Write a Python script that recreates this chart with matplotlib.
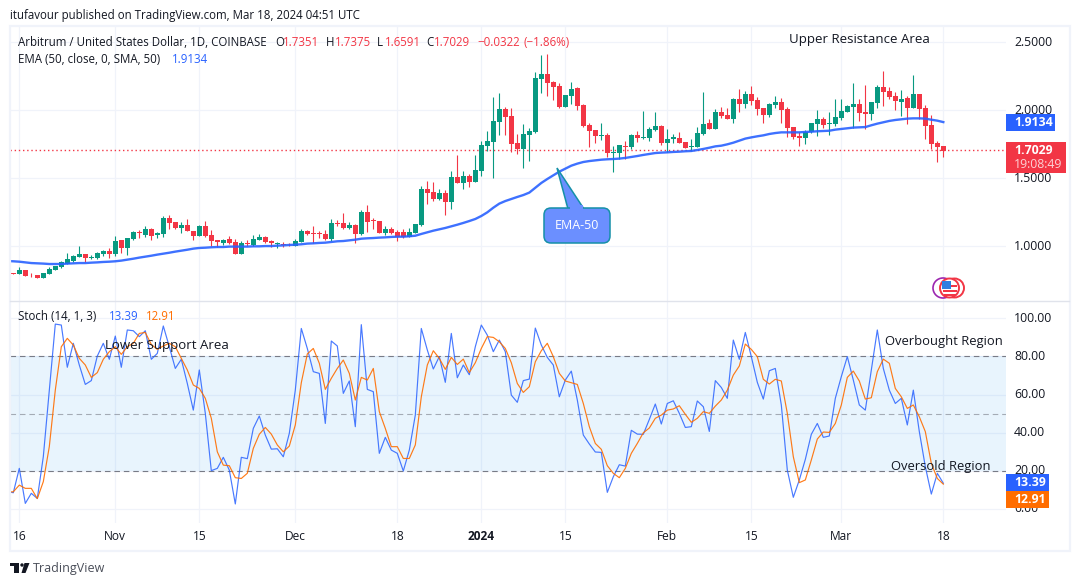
import matplotlib.pyplot as plt
from matplotlib.patches import Rectangle, FancyBboxPatch, Polygon, Circle

plt.rcParams['font.family'] = ['Open Sans', 'DejaVu Sans']

opens = [.804,.797,.826,.789,.789,.767,.799,.826,.848,.873,.892,.924,.944,.917,.914,.944,.966,.944,1.049,.990,
         1.054,1.105,1.083,1.127,1.083,1.091,1.208,1.181,1.135,1.157,1.115,1.076,1.150,1.083,1.047,1.025,1.054,1.029,.944,1.025,
         1.007,1.049,1.069,1.039,1.015,1.017,1.012,1.002,1.032,1.113,1.098,1.098,1.091,1.054,1.172,1.172,1.135,1.157,1.091,1.252,
         1.194,1.186,1.098,1.127,1.105,1.105,1.069,1.098,1.157,1.422,1.400,1.348,1.392,1.326,1.510,1.466,1.517,1.473,1.554,1.738,
         1.767,1.914,2.010,1.958,1.760,1.716,1.819,1.841,2.230,2.267,2.208,2.179,2.025,2.105,2.164,2.039,1.892,1.855,1.811,1.819,
         1.689,1.686,1.738,1.730,1.819,1.797,1.797,1.855,1.885,1.760,1.789,1.797,1.767,1.730,1.730,1.826,1.907,1.863,1.988,1.966,
         1.936,2.083,2.047,2.120,2.076,2.017,1.966,2.039,2.061,2.010,1.877,1.811,1.797,1.841,1.900,1.936,1.900,1.900,1.944,1.988,
         2.025,2.047,1.988,1.973,2.054,2.172,2.142,2.105,2.061,2.091,2.017,2.120,2.017,1.892,1.760,1.7351]
highs = [.806,.846,.826,.801,.789,.806,.846,.855,.895,.951,.939,1.002,.944,.936,.956,.973,.988,1.076,1.049,1.059,
         1.115,1.120,1.150,1.135,1.105,1.223,1.228,1.181,1.179,1.199,1.115,1.154,1.186,1.120,1.047,1.054,1.076,1.051,1.039,1.047,
         1.083,1.091,1.076,1.047,1.032,1.032,1.022,1.051,1.127,1.120,1.150,1.115,1.120,1.201,1.194,1.248,1.179,1.164,1.267,1.304,
         1.208,1.186,1.150,1.142,1.120,1.127,1.135,1.164,1.444,1.480,1.473,1.422,1.414,1.554,1.672,1.554,1.532,1.672,1.777,1.848,
         2.098,2.127,2.025,2.017,1.826,1.900,1.870,2.282,2.407,2.414,2.216,2.201,2.113,2.208,2.172,2.047,1.907,1.855,1.907,1.833,
         1.738,1.745,1.775,1.826,1.848,1.995,1.877,1.988,1.892,1.863,1.826,1.841,1.767,1.789,1.877,2.135,1.936,2.010,2.025,2.017,
         2.091,2.157,2.142,2.179,2.098,2.017,2.054,2.105,2.091,2.025,1.877,1.841,1.855,1.907,2.002,1.951,1.988,2.083,2.083,2.039,
         2.201,2.083,2.186,2.061,2.186,2.289,2.172,2.135,2.150,2.105,2.260,2.120,2.039,1.966,1.775,1.7375]
lows = [.797,.797,.782,.775,.770,.767,.797,.826,.843,.868,.887,.919,.885,.907,.909,.929,.917,.929,.953,.939,
        1.049,1.061,1.071,1.047,1.064,1.071,1.127,1.125,1.098,1.115,1.047,1.076,1.071,1.002,.993,1.007,1.017,.944,.944,1.002,
        1.002,1.047,1.027,.995,.990,.998,1.002,1.002,1.029,1.083,1.022,1.059,1.047,1.039,1.150,1.125,1.125,1.027,1.083,1.105,
        1.127,1.098,1.083,1.091,1.039,1.061,1.069,1.098,1.150,1.311,1.336,1.341,1.230,1.275,1.466,1.422,1.436,1.473,1.517,1.701,
        1.502,1.819,1.819,1.694,1.679,1.576,1.627,1.833,2.127,2.105,2.076,2.017,2.025,2.047,2.002,1.877,1.730,1.760,1.782,1.657,
        1.547,1.642,1.642,1.716,1.767,1.789,1.775,1.848,1.745,1.694,1.760,1.760,1.723,1.701,1.730,1.819,1.863,1.863,1.944,1.936,
        1.907,1.988,2.017,2.039,1.966,1.907,1.951,2.017,1.907,1.804,1.789,1.738,1.752,1.833,1.811,1.870,1.819,1.885,1.929,1.988,
        1.870,1.922,1.863,1.929,2.017,2.032,2.083,2.002,1.958,1.900,2.017,1.936,1.789,1.716,1.620,1.6591]
closes = [.799,.826,.784,.787,.770,.801,.833,.855,.882,.907,.926,.944,.914,.922,.951,.966,.944,1.039,.990,1.059,
          1.105,1.100,1.127,1.076,1.100,1.208,1.172,1.135,1.157,1.115,1.076,1.150,1.076,1.039,1.034,1.047,1.025,.944,1.022,1.017,
          1.054,1.069,1.032,1.022,1.022,1.007,1.007,1.039,1.113,1.091,1.093,1.093,1.054,1.172,1.167,1.135,1.157,1.091,1.252,1.179,
          1.189,1.098,1.127,1.098,1.069,1.069,1.105,1.164,1.422,1.392,1.348,1.392,1.326,1.510,1.466,1.517,1.473,1.561,1.745,1.775,
          1.922,2.010,1.951,1.752,1.716,1.826,1.848,2.238,2.267,2.201,2.172,2.025,2.113,2.157,2.032,1.885,1.848,1.811,1.819,1.686,
          1.694,1.745,1.730,1.819,1.797,1.804,1.863,1.885,1.757,1.789,1.804,1.760,1.723,1.738,1.833,1.900,1.863,1.988,1.958,1.936,
          2.083,2.047,2.120,2.069,2.010,1.966,2.047,2.061,2.002,1.870,1.804,1.797,1.841,1.907,1.936,1.892,1.907,1.951,1.995,2.032,
          2.047,1.980,1.973,2.061,2.172,2.135,2.098,2.069,2.083,2.017,2.120,2.010,1.885,1.752,1.730,1.7029]
# these three start one bar before the first candle, at the left edge of the panes
ema50 = [.892,.890,.887,.882,.877,.875,.873,.870,.870,.870,.873,.875,.877,.877,.880,.882,.885,.887,.890,.895,.902,
         .909,.917,.924,.931,.939,.946,.953,.961,.968,.975,.983,.988,.990,.993,.995,.995,.998,.998,.998,.998,
         1.000,1.000,1.002,1.002,1.005,1.007,1.010,1.012,1.015,1.020,1.022,1.025,1.027,1.032,1.037,1.039,1.044,1.049,1.056,1.059,
         1.061,1.064,1.066,1.069,1.071,1.071,1.074,1.078,1.091,1.103,1.115,1.125,1.135,1.147,1.159,1.172,1.186,1.201,1.223,1.250,
         1.284,1.314,1.333,1.348,1.363,1.377,1.395,1.431,1.466,1.495,1.522,1.549,1.571,1.593,1.608,1.620,1.627,1.632,1.637,1.640,
         1.642,1.645,1.650,1.657,1.664,1.672,1.679,1.686,1.689,1.691,1.694,1.696,1.699,1.701,1.708,1.716,1.725,1.735,1.740,1.750,
         1.762,1.777,1.792,1.801,1.809,1.816,1.826,1.833,1.838,1.838,1.838,1.838,1.841,1.843,1.846,1.848,1.850,1.858,1.863,1.868,
         1.873,1.875,1.877,1.890,1.902,1.912,1.922,1.929,1.934,1.939,1.941,1.941,1.939,1.931,1.924,1.9134]
stoch_k = [9.0,8.4,21.2,2.8,8.1,5.4,27.3,62.3,97.0,96.5,74.3,86.9,75.5,65.3,67.3,80.2,86.9,78.5,90.7,74.3,93.9,
           93.5,90.4,93.5,78.5,81.6,96.0,85.1,73.7,78.5,65.8,51.8,72.9,50.1,20.0,21.2,27.0,20.3,2.5,27.0,26.3,
           42.2,48.7,38.7,31.3,31.5,27.3,39.6,62.3,94.7,84.2,72.0,71.1,44.8,88.1,85.5,60.6,67.1,43.1,96.7,62.7,
           61.5,29.1,37.5,30.8,29.1,19.8,30.8,49.2,94.7,83.4,73.4,79.9,66.4,92.1,68.8,75.5,70.4,85.1,96.5,91.2,
           82.5,88.6,82.5,59.7,55.9,67.3,68.1,94.9,86.0,79.5,75.5,58.8,67.6,72.3,57.1,38.7,34.0,29.8,29.6,8.6,
           16.8,23.1,22.4,41.2,39.2,39.1,46.9,55.0,44.5,55.3,56.7,50.1,42.7,43.1,56.6,53.6,40.6,67.3,63.7,58.0,
           88.6,78.5,92.6,79.9,66.4,57.6,72.5,73.7,54.5,20.3,6.0,15.1,25.9,39.1,44.8,37.5,38.2,58.0,69.4,79.9,
           67.6,54.5,51.8,72.9,93.9,73.7,62.3,55.3,58.0,44.0,62.3,40.5,22.1,7.7,18.6,13.39]
stoch_d = [8.8,8.9,12.4,10.7,10.7,5.3,14.2,32.6,62.3,85.1,89.5,86.0,79.0,75.5,69.0,71.5,78.5,82.5,85.1,81.1,85.1,
           86.9,92.1,92.6,86.3,83.7,85.5,86.9,85.1,79.0,72.9,65.0,63.2,58.0,47.5,29.9,22.9,22.6,16.3,15.9,18.6,
           31.7,39.1,42.7,39.2,33.5,29.9,32.9,44.0,66.2,81.3,84.2,76.4,62.7,68.5,73.7,78.1,71.1,57.1,69.0,67.6,
           73.7,51.0,42.2,32.6,32.6,26.4,26.4,33.5,58.8,75.5,83.0,79.0,73.2,79.5,75.8,78.6,71.5,76.7,84.2,90.4,
           90.0,87.7,84.2,76.7,65.8,61.1,64.1,77.2,83.0,86.9,79.9,71.1,67.1,66.2,65.3,55.3,43.1,34.3,31.2,22.6,
           18.6,16.3,21.2,29.1,34.3,39.9,42.4,47.5,49.2,51.8,52.4,54.1,49.6,45.4,47.5,51.0,50.1,53.9,57.1,62.3,
           70.2,75.0,86.5,83.7,79.9,68.0,65.5,68.0,67.1,50.1,27.3,13.7,15.1,25.6,36.6,40.3,40.1,44.8,54.5,69.0,
           72.3,67.1,57.6,58.3,72.0,78.6,76.4,63.2,58.8,52.7,54.5,48.3,40.5,23.8,15.9,12.91]
time_ticks = [1, 17, 31, 47, 64, 78, 92, 109, 123, 138, 155]
time_labels = ['16', 'Nov', '15', 'Dec', '18', '2024', '15', 'Feb', '15', 'Mar', '18']
price_ticks = [1.0, 1.5, 2.0, 2.5]
stoch_ticks = [0, 20, 40, 60, 80, 100]

GREEN = '#089981'
RED = '#f23645'
BLUE = '#2962ff'
ORANGE = '#ff6d00'
GRID = '#f0f3fa'
TEXT = '#131722'
W, H = 1080, 586


def axes_at(left, top, right, bottom):
    return fig.add_axes([left / W, 1 - bottom / H, (right - left) / W, (bottom - top) / H])


fig = plt.figure(figsize=(W / 100, H / 100), dpi=100)
xlim = (-0.55, 165.28)
xs = list(range(len(closes)))
line_xs = list(range(-1, len(closes)))

# price pane
ax = axes_at(10, 26, 1006, 301)
ax.set_xlim(xlim[0], xlim[1] + 1 / 6)
ax.set_ylim(0.598, 2.62)
ax.set_xticks(time_ticks)
ax.set_yticks(price_ticks)
ax.set_xticklabels([])
ax.set_yticklabels([])
ax.grid(color=GRID, lw=0.9)
ax.set_axisbelow(True)
ax.tick_params(length=0)
for s in ax.spines.values():
    s.set_visible(False)

colors = [GREEN if c >= o else RED for o, c in zip(opens, closes)]
ax.vlines(xs, lows, highs, colors=colors, lw=0.8, zorder=2)
bottoms = [min(o, c) for o, c in zip(opens, closes)]
sizes = [max(abs(c - o), 0.004) for o, c in zip(opens, closes)]
ax.bar(xs, sizes, bottom=bottoms, width=0.75, color=colors, linewidth=0, zorder=3)
ax.plot(line_xs, ema50, color=BLUE, lw=1.7, alpha=0.9, zorder=4)
ax.axhline(closes[-1] + 0.004, color=RED, lw=1, ls=(0, (1, 2)), zorder=1)

# stochastic pane
ax2 = axes_at(10, 302, 1006, 523)
ax2.set_xlim(xlim[0], xlim[1] + 1 / 6)
ax2.set_ylim(-7.5, 108.6)
ax2.set_xticks(time_ticks)
ax2.set_yticks(stoch_ticks)
ax2.set_xticklabels([])
ax2.set_yticklabels([])
ax2.grid(color=GRID, lw=0.9)
ax2.set_axisbelow(True)
ax2.tick_params(length=0)
for s in ax2.spines.values():
    s.set_visible(False)
ax2.axhspan(20, 80, color='#2196f3', alpha=0.1, lw=0, zorder=1)
ax2.axhline(80, color='#787b86', lw=0.8, ls=(0, (5, 3.5)), zorder=1.5)
ax2.axhline(50, color='#787b86', lw=0.8, ls=(0, (5, 3.5)), alpha=0.6, zorder=1.5)
ax2.axhline(20, color='#787b86', lw=0.8, ls=(0, (5, 3.5)), zorder=1.5)
ax2.plot(line_xs, stoch_k, color=BLUE, lw=0.85, alpha=0.85, zorder=3)
ax2.plot(line_xs, stoch_d, color=ORANGE, lw=0.85, alpha=0.9, zorder=3)

# overlay in pixel coordinates for labels, tags and drawings
ov = fig.add_axes([0, 0, 1, 1], facecolor='none')
ov.set_xlim(0, W)
ov.set_ylim(H, 0)
ov.axis('off')


def label(x, y, s, color=TEXT, size=8.3, ha='left', **kw):
    ov.text(x, y, s, color=color, fontsize=size, ha=ha, va='center', **kw)


def value_y(axis, v):
    # pixel row of a value on one of the panes
    return H - axis.transData.transform((0, v))[1]


# frame
ov.add_patch(Rectangle((9.5, 25.5), 1060, 525.5, fill=False, ec=GRID, lw=1.6))
ov.plot([10, 1069], [301, 301], color='#e0e3eb', lw=1)

label(10, 15.5, 'itufavour published on TradingView.com, Mar 18, 2024 04:51 UTC')

label(18, 43, 'Arbitrum / United States Dollar, 1D, COINBASE')
for x, s, c in [(275, 'O', TEXT), (283, '1.7351', RED), (326, 'H', TEXT), (335, '1.7375', RED),
                (377, 'L', TEXT), (385, '1.6591', RED), (426, 'C', TEXT), (434, '1.7029', RED),
                (477, '\u22120.0322', RED), (523, '(\u22121.86%)', RED)]:
    label(x, 43, s, color=c)
label(18, 59.5, 'EMA (50, close, 0, SMA, 50)')
label(172, 59.5, '1.9134', color=BLUE)
label(18, 316.5, 'Stoch (14, 1, 3)')
label(109, 316.5, '13.39', color=BLUE)
label(146, 316.5, '12.91', color=ORANGE)

label(789, 39, 'Upper Resistance Area', size=9.5)
label(105, 346, 'Lower Support Area', size=9.5)
label(885, 342, 'Overbought Region', size=9.4)
label(891, 466.5, 'Oversold Region', size=9.4)

# price and stochastic scale
for p in price_ticks:
    label(1014, value_y(ax, p), '%.4f' % p, size=8.8)
for v in stoch_ticks:
    label(1014, value_y(ax2, v), '%.2f' % v, size=8.8)
for t, s in zip(time_ticks, time_labels):
    x = ax.transData.transform((t, 1))[0]
    label(x, 537, s, ha='center', size=8.6, fontweight='bold' if s == '2024' else 'normal')

# last value tags cover the scale labels behind them
ov.add_patch(Rectangle((1006, 114), 49, 17, fc=BLUE, ec='none', zorder=5))
label(1014, 122.5, '1.9134', color='white', size=8.8, fontweight='bold', zorder=6)
ov.add_patch(Rectangle((1006, 142), 60, 31, fc=RED, ec='none', zorder=5))
label(1014, 150.5, '1.7029', color='white', size=8.8, fontweight='bold', zorder=6)
label(1014, 164.5, '19:08:49', color='#fcd3d6', size=8.8, zorder=6)
ov.add_patch(Rectangle((1006, 474), 43, 17, fc=BLUE, ec='none', zorder=5))
label(1014, 482.5, '13.39', color='white', size=8.8, fontweight='bold', zorder=6)
ov.add_patch(Rectangle((1006, 491), 43, 17, fc=ORANGE, ec='none', zorder=5))
label(1014, 499.5, '12.91', color='white', size=8.8, fontweight='bold', zorder=6)

# EMA-50 callout
ov.add_patch(Polygon([(557, 168), (568, 209), (584, 209)], fc='#6b8fff', ec='#1590a8', lw=1.1, zorder=5))
ov.add_patch(FancyBboxPatch((547, 211), 60, 29, boxstyle='round,pad=3,rounding_size=7',
                            fc='#6b8fff', ec='#1590a8', lw=1.1, zorder=6))
ov.add_patch(Rectangle((569.5, 205), 13.5, 8, fc='#6b8fff', ec='none', zorder=7))
ov.text(577, 225.5, 'EMA-50', color='white', fontsize=9, ha='center', va='center', zorder=8)

# currency badge
ov.add_patch(Circle((943, 288), 10, fc='white', ec='#9c27b0', lw=1.2, zorder=5))
ov.add_patch(Circle((954.5, 288), 9.5, fc='white', ec=RED, lw=1.4, zorder=5))
ov.add_patch(Circle((949.5, 288), 9.5, fc='white', ec=RED, lw=1.4, zorder=6))
ov.add_patch(Rectangle((943, 285), 14, 2, fc=RED, ec='none', zorder=7))
ov.add_patch(Rectangle((943, 290), 14, 2, fc=RED, ec='none', zorder=7))
ov.add_patch(Rectangle((943.5, 294), 12, 1.6, fc=RED, ec='none', zorder=7))
ov.add_patch(Rectangle((942, 280.5), 9, 8.5, fc='#2f7fe0', ec='none', zorder=8))

# footer logo
ov.add_patch(Rectangle((10, 563), 9, 3.4, fc=TEXT, ec='none'))
ov.add_patch(Rectangle((14, 563), 5, 10, fc=TEXT, ec='none'))
ov.add_patch(Circle((22, 565), 1.7, fc=TEXT, ec='none'))
ov.add_patch(Polygon([(21.5, 573), (24.5, 563), (29.5, 563), (25.5, 573)], fc=TEXT, ec='none'))
label(33, 568.5, 'TradingView', color='#4a4e59', size=9)

fig.savefig('out.png', dpi=100)
